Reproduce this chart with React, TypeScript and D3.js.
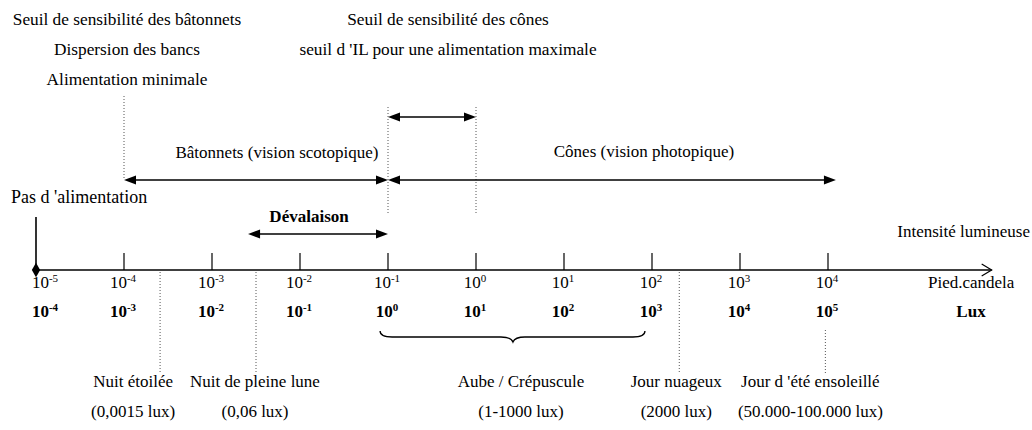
import React from "react";
import * as d3 from "d3";

// Exponents of the two graduated rows (pied-candela and lux)
const FC_EXPONENTS = [-5, -4, -3, -2, -1, 0, 1, 2, 3, 4];
const LUX_EXPONENTS = [-4, -3, -2, -1, 0, 1, 2, 3, 4, 5];

// Text blocks
const TOP_LEFT_LINES = ["Seuil de sensibilité des bâtonnets", "Dispersion des bancs", "Alimentation minimale"];
const TOP_RIGHT_LINES = ["Seuil de sensibilité des cônes", "seuil d 'IL pour une alimentation maximale"];

// Thresholds, in pied-candela exponent units
const ROD_THRESHOLD = -4;
const CONE_THRESHOLD = -1;
const IL_MAX_THRESHOLD = 0;
const NO_FEEDING = -5;

// Ranges (pied-candela exponent units)
const RODS_RANGE = [-4, -1];
const CONES_RANGE = [-1, 4.09];
const IL_RANGE = [-1, 0];
const DEVALAISON_RANGE = [-2.59, -1];
const DAWN_RANGE = [-1.09, 1.92];
const DAWN_TIP = 0.42;
const AXIS_END = 5.86;

// Ambient light references
const AMBIENT_NAMES = ["Nuit étoilée", "Nuit de pleine lune", "Jour nuageux", "Jour d 'été ensoleillé"];
const AMBIENT_LUX = ["(0,0015 lux)", "(0,06 lux)", "(2000 lux)", "(50.000-100.000 lux)"];
const AMBIENT_AT = [-3.59, -2.5, 2.31, 3.97];

const FONT = "'Liberation Serif', 'Times New Roman', serif";

export default function App() {
  const W = 1032, H = 430;
  const x = d3.scaleLinear().domain([-5, 4]).range([36, 828]);
  const luxX = d3.scaleLinear().domain([-4, 5]).range([36, 828]);
  const axisY = 270;

  const fs = 17;
  const dotted = { stroke: "#555", strokeWidth: 1, strokeDasharray: "1 2", fill: "none" };

  const arrowHead = (tipX: number, y: number, dir: number, key: string) => {
    const L = 12, h = 4.5;
    const p = d3.path();
    p.moveTo(tipX, y);
    p.lineTo(tipX - dir * L, y - h);
    p.lineTo(tipX - dir * L, y + h);
    p.closePath();
    return <path key={key} d={p.toString()} fill="#000" />;
  };

  const dblArrow = (r: number[], y: number, key: string) => {
    const x0 = x(r[0]), x1 = x(r[1]);
    return (
      <g key={key}>
        <line x1={x0 + 6} x2={x1 - 6} y1={y} y2={y} stroke="#000" strokeWidth={1.6} />
        {arrowHead(x0, y, -1, key + "l")}
        {arrowHead(x1, y, 1, key + "r")}
      </g>
    );
  };

  const expLabel = (exp: number, cx: number, y: number, bold: boolean, key: string) => (
    <text key={key} x={cx} y={y} fontFamily={FONT} fontSize={17} fontWeight={bold ? "bold" : "normal"} textAnchor="middle">
      <tspan>10</tspan>
      <tspan fontSize={11} dy={-6}>{exp < 0 ? "-" + Math.abs(exp) : String(exp)}</tspan>
    </text>
  );

  // brace
  const bx0 = x(DAWN_RANGE[0]), bx1 = x(DAWN_RANGE[1]), bt = x(DAWN_TIP);
  const bTop = 331, bMid = 337, bTip = 342;
  const brace = d3.path();
  brace.moveTo(bx0, bTop);
  brace.quadraticCurveTo(bx0, bMid, bx0 + 12, bMid);
  brace.lineTo(bt - 12, bMid);
  brace.quadraticCurveTo(bt - 2, bMid, bt, bTip);
  brace.quadraticCurveTo(bt + 2, bMid, bt + 12, bMid);
  brace.lineTo(bx1 - 12, bMid);
  brace.quadraticCurveTo(bx1, bMid, bx1, bTop);

  const labelDx = [-27, -1, -3, -15];
  const markerTop = [272, 272, 272, 330];

  const diamond = d3.symbol().type(d3.symbolDiamond).size(60)();

  const axisEnd = x(AXIS_END);

  return (
    <svg width={W} height={H} style={{ position: "fixed", left: 0, top: 0, background: "#fff" }}>
      <rect width={W} height={H} fill="#fff" />

      {/* top text blocks */}
      {TOP_LEFT_LINES.map((t, i) => (
        <text key={"tl" + i} x={x(ROD_THRESHOLD) + 3} y={25 + i * 30} fontFamily={FONT} fontSize={17.3} textAnchor="middle">{t}</text>
      ))}
      {TOP_RIGHT_LINES.map((t, i) => (
        <text key={"tr" + i} x={(x(CONE_THRESHOLD) + x(IL_MAX_THRESHOLD)) / 2 + 16} y={25 + i * 30} fontFamily={FONT} fontSize={17.3} textAnchor="middle">{t}</text>
      ))}

      {/* threshold dotted lines */}
      <line x1={x(ROD_THRESHOLD)} x2={x(ROD_THRESHOLD)} y1={96} y2={180} {...dotted} />
      <line x1={x(CONE_THRESHOLD)} x2={x(CONE_THRESHOLD)} y1={107} y2={213} {...dotted} />
      <line x1={x(IL_MAX_THRESHOLD)} x2={x(IL_MAX_THRESHOLD)} y1={107} y2={213} {...dotted} />

      {/* ranges */}
      {dblArrow(IL_RANGE, 117, "il")}
      {dblArrow(RODS_RANGE, 180, "rods")}
      {dblArrow(CONES_RANGE, 180, "cones")}
      {dblArrow(DEVALAISON_RANGE, 234, "dev")}

      <text x={(x(RODS_RANGE[0]) + x(RODS_RANGE[1])) / 2 + 21} y={158} fontFamily={FONT} fontSize={fs} textAnchor="middle">Bâtonnets (vision scotopique)</text>
      <text x={(x(CONES_RANGE[0]) + x(CONES_RANGE[1])) / 2 + 32} y={157} fontFamily={FONT} fontSize={fs} textAnchor="middle">Cônes (vision photopique)</text>
      <text x={(x(DEVALAISON_RANGE[0]) + x(DEVALAISON_RANGE[1])) / 2 - 9} y={222} fontFamily={FONT} fontSize={fs} fontWeight="bold" textAnchor="middle">Dévalaison</text>

      <text x={11} y={203} fontFamily={FONT} fontSize={18}>Pas d 'alimentation</text>
      <line x1={x(NO_FEEDING)} x2={x(NO_FEEDING)} y1={217} y2={axisY} stroke="#000" strokeWidth={1.6} />

      {/* axis */}
      <line x1={x(-5)} x2={axisEnd} y1={axisY} y2={axisY} stroke="#000" strokeWidth={1.4} />
      <path d={`M${axisEnd - 10},${axisY - 6} L${axisEnd},${axisY} L${axisEnd - 10},${axisY + 6}`} fill="none" stroke="#000" strokeWidth={1.2} />
      <path d={diamond as string} transform={`translate(${x(-5)},${axisY})`} fill="#000" />
      {FC_EXPONENTS.slice(1).map((e) => (
        <line key={"tk" + e} x1={x(e)} x2={x(e)} y1={axisY - 17} y2={axisY} stroke="#000" strokeWidth={1.2} />
      ))}

      <text x={1030} y={237} fontFamily={FONT} fontSize={fs} textAnchor="end">Intensité lumineuse</text>
      <text x={928} y={288} fontFamily={FONT} fontSize={fs}>Pied.candela</text>
      <text x={971} y={317} fontFamily={FONT} fontSize={fs} fontWeight="bold" textAnchor="middle">Lux</text>

      {FC_EXPONENTS.map((e, i) => expLabel(e, x(e) + (i === 0 ? 9 : -1), 288, false, "fc" + e))}
      {LUX_EXPONENTS.map((e, i) => expLabel(e, luxX(e) + (i === 0 ? 9 : -1), 317, true, "lx" + e))}

      {/* dawn brace */}
      <path d={brace.toString()} fill="none" stroke="#000" strokeWidth={1.3} />
      <text x={bt + 8} y={387} fontFamily={FONT} fontSize={fs} textAnchor="middle">Aube / Crépuscule</text>
      <text x={bt + 8} y={417} fontFamily={FONT} fontSize={fs} textAnchor="middle">(1-1000 lux)</text>

      {/* ambient markers */}
      {AMBIENT_AT.map((a, i) => (
        <g key={"amb" + i}>
          <line x1={x(a)} x2={x(a)} y1={markerTop[i]} y2={373} {...dotted} />
          <text x={x(a) + labelDx[i]} y={387} fontFamily={FONT} fontSize={fs} textAnchor="middle">{AMBIENT_NAMES[i]}</text>
          <text x={x(a) + labelDx[i]} y={417} fontFamily={FONT} fontSize={fs} textAnchor="middle">{AMBIENT_LUX[i]}</text>
        </g>
      ))}
    </svg>
  );
}
